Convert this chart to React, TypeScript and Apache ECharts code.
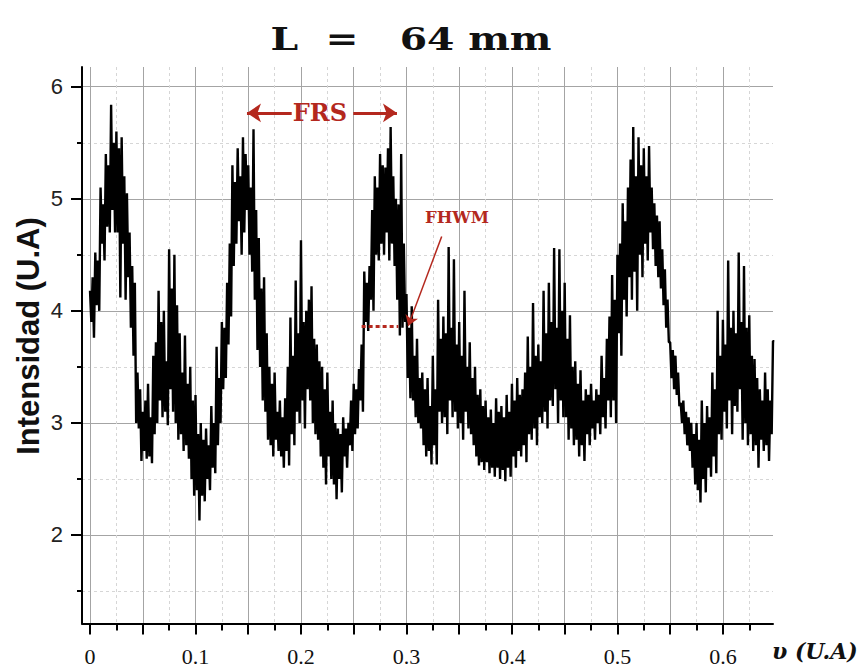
import React, { useEffect, useRef } from 'react';
import * as echarts from 'echarts';

// ---- data -------------------------------------------------------------
const xStep = 0.00125; // sampling step of the signal along the x axis (U.A)

// Intensidad (U.A), one value per 0.00125 step from x = 0
const intensity = [
  4.18, 3.9, 4.3, 3.76, 4.52, 4.05, 4.45, 4.0, 5.1, 4.6, 4.95, 4.45, 5.4, 4.75, 5.3, 4.7, 5.84, 4.9, 5.5, 4.7,
  5.6, 4.7, 5.45, 4.12, 5.55, 4.6, 5.2, 4.1, 5.05, 4.3, 4.7, 3.85, 4.4, 3.6, 4.25, 3.0, 3.45, 2.95, 3.3, 2.66,
  3.1, 2.75, 3.2, 2.68, 3.35, 2.7, 3.05, 2.64, 3.6, 2.9, 3.72, 3.0, 4.18, 3.2, 3.9, 3.05, 4.0, 3.1, 3.55, 2.98,
  4.55, 3.3, 4.2, 3.1, 4.5, 3.0, 4.05, 2.85, 3.8, 2.9, 3.45, 2.75, 3.78, 2.8, 3.35, 2.68, 3.5, 2.5, 3.2, 2.35,
  3.25, 2.4, 2.9, 2.13, 3.0, 2.35, 2.85, 2.3, 2.95, 2.5, 2.8, 2.4, 3.15, 2.6, 3.0, 2.55, 3.68, 2.8, 3.4, 3.0,
  3.9, 3.3, 3.85, 3.4, 4.25, 3.7, 4.6, 3.95, 5.3, 4.4, 5.15, 4.6, 5.45, 4.8, 5.2, 4.5, 5.55, 4.7, 5.4, 4.9,
  5.3, 4.5, 5.1, 4.35, 5.62, 4.1, 4.9, 3.65, 4.65, 3.5, 4.2, 3.2, 4.3, 3.1, 3.8, 2.85, 3.5, 2.8, 3.35, 2.7,
  3.45, 2.85, 3.1, 2.75, 3.2, 2.7, 3.05, 2.6, 3.22, 2.75, 3.5, 2.62, 3.94, 2.9, 3.6, 2.8, 4.27, 3.1, 3.8, 3.0,
  4.63, 3.2, 3.9, 2.95, 4.0, 3.3, 4.1, 3.2, 4.22, 3.0, 3.75, 2.9, 3.7, 2.85, 3.55, 2.7, 3.5, 2.6, 3.3, 2.45,
  3.45, 2.7, 3.1, 2.5, 3.2, 2.45, 3.0, 2.32, 2.95, 2.5, 2.9, 2.38, 3.05, 2.7, 2.95, 2.6, 3.0, 2.8, 3.2, 2.75,
  3.35, 2.9, 3.3, 2.95, 3.48, 3.2, 3.7, 3.1, 4.35, 3.9, 4.25, 3.82, 4.4, 4.1, 4.9, 4.0, 5.2, 4.5, 5.1, 4.45,
  5.4, 4.6, 5.3, 4.5, 5.28, 4.7, 5.45, 4.45, 5.64, 4.6, 5.2, 4.4, 5.0, 4.1, 4.95, 3.78, 5.4, 3.85, 4.6, 3.9,
  4.15, 3.4, 3.85, 3.22, 4.04, 3.2, 3.6, 3.05, 3.75, 3.0, 3.4, 2.95, 3.45, 2.8, 3.3, 2.7, 3.4, 2.75, 3.15, 2.63,
  3.6, 2.8, 3.3, 2.63, 4.1, 3.1, 3.75, 3.0, 3.95, 3.05, 3.8, 2.9, 4.57, 3.2, 3.85, 3.05, 4.46, 3.1, 3.7, 2.95,
  3.9, 3.0, 3.6, 2.85, 4.18, 3.1, 3.5, 2.95, 3.72, 2.9, 3.4, 2.8, 3.5, 2.7, 3.25, 2.62, 3.3, 2.65, 3.15, 2.58,
  3.2, 2.65, 3.05, 2.55, 3.12, 2.6, 3.0, 2.52, 3.22, 2.6, 3.1, 2.5, 3.15, 2.58, 3.05, 2.48, 3.25, 2.6, 3.1, 2.52,
  3.35, 2.7, 3.2, 2.6, 3.4, 2.75, 3.25, 2.7, 3.3, 2.8, 3.45, 2.65, 3.77, 2.9, 3.5, 2.85, 4.07, 2.95, 3.6, 2.8,
  3.7, 3.05, 3.55, 3.0, 4.18, 3.1, 3.8, 2.95, 4.25, 3.2, 3.9, 3.15, 4.56, 3.3, 3.85, 3.0, 4.55, 3.2, 4.0, 3.05,
  4.25, 3.05, 3.75, 2.85, 3.96, 2.95, 3.5, 2.8, 3.55, 2.85, 3.35, 2.7, 3.47, 2.8, 3.2, 2.66, 3.3, 2.9, 3.25, 2.8,
  3.35, 2.95, 3.2, 2.85, 3.3, 3.0, 3.25, 2.9, 3.6, 3.05, 3.4, 2.95, 3.75, 3.2, 3.95, 3.05, 4.32, 3.2, 4.1, 3.0,
  4.5, 3.8, 4.6, 3.6, 4.96, 4.1, 4.8, 3.95, 5.1, 4.3, 5.35, 4.1, 5.64, 4.35, 5.2, 4.0, 5.55, 4.5, 5.3, 4.3,
  5.45, 4.6, 5.2, 4.45, 5.47, 4.7, 5.1, 4.55, 4.96, 4.4, 4.85, 4.3, 4.8, 4.2, 4.55, 4.05, 4.37, 3.85, 4.1, 3.72,
  3.72, 3.4, 3.65, 3.3, 3.6, 3.25, 3.45, 3.15, 3.18, 3.0, 3.2, 2.9, 3.1, 2.8, 3.05, 2.75, 3.0, 2.6, 2.9, 2.45,
  3.0, 2.4, 2.85, 2.29, 3.2, 2.5, 3.0, 2.38, 3.15, 2.6, 3.05, 2.52, 3.45, 2.7, 3.3, 2.55, 4.0, 2.9, 3.6, 2.85,
  3.92, 3.1, 3.7, 2.95, 4.45, 3.2, 3.85, 2.9, 4.0, 3.15, 3.8, 3.1, 4.52, 3.3, 3.9, 2.85, 4.4, 3.0, 3.85, 2.8,
  3.96, 2.9, 3.6, 2.75, 3.57, 2.8, 3.4, 2.6, 3.3, 2.85, 3.2, 2.75, 3.45, 2.8, 3.3, 2.66, 3.2, 2.9, 3.73, 3.73,
];

const xMajorTicks = [0, 0.05, 0.1, 0.15, 0.2, 0.25, 0.3, 0.35, 0.4, 0.45, 0.5, 0.55, 0.6];
const xMinorTicks = [0.025, 0.075, 0.125, 0.175, 0.225, 0.275, 0.325, 0.375, 0.425, 0.475, 0.525, 0.575, 0.625];
const xTickLabels = [0, 0.1, 0.2, 0.3, 0.4, 0.5, 0.6];
const yMajorTicks = [2, 3, 4, 5, 6];
const yMinorTicks = [1.5, 2.5, 3.5, 4.5, 5.5];
const yTickLabels = [2, 3, 4, 5, 6];

const xRange = [-0.0076, 0.6475];
const yRange = [1.21, 6.176];

// annotations (data coordinates)
const frsLabelText = 'FRS';
const fhwmLabelText = 'FHWM';
const frsLeftArrow = [[0.1912, 5.766], [0.1488, 5.766]];
const frsRightArrow = [[0.2496, 5.766], [0.291, 5.766]];
const frsLabelPos = [0.218, 5.766];
const fhwmLabelPos = [0.3479, 4.83];
const fhwmArrow = [[0.3334, 4.663], [0.3017, 3.867]];
const fhwmDots = [[0.2575, 3.861], [0.2923, 3.861]];

const titleText = 'L  =   64 mm';
const yName = 'Intensidad (U.A)';
const xName = 'υ (U.A)';

const RED = '#b4281e';
const INK = '#111111';

export default function App() {
  const ref = useRef<HTMLDivElement>(null);

  useEffect(() => {
    if (!ref.current) return;
    const chart = echarts.init(ref.current, null, { renderer: 'svg' });

    const majorSplit = { show: true, lineStyle: { color: '#a4a4a4', width: 1, type: 'solid' } };
    const minorSplit = { show: true, lineStyle: { color: '#d6d6d6', width: 1, type: [3, 3] } };

    const option: any = {
      animation: false,
      backgroundColor: '#ffffff',
      grid: {
        left: 82,
        right: 90,
        top: 67,
        bottom: 45.5,
        containLabel: false,
        outerBoundsMode: 'none',
      },
      xAxis: [
        {
          type: 'value',
          min: xRange[0],
          max: xRange[1],
          position: 'bottom',
          axisLine: { show: true, onZero: false, lineStyle: { color: '#000', width: 2 } },
          axisTick: { show: true, customValues: xMajorTicks, length: 11, lineStyle: { color: '#000', width: 2 } },
          axisLabel: {
            show: true,
            customValues: xTickLabels,
            margin: 22,
            color: INK,
            fontFamily: 'Liberation Serif',
            fontSize: 22,
          },
          splitLine: majorSplit,
        },
        {
          type: 'value',
          min: xRange[0],
          max: xRange[1],
          position: 'bottom',
          axisLine: { show: false, onZero: false },
          axisTick: { show: true, customValues: xMinorTicks, length: 7, lineStyle: { color: '#000', width: 2 } },
          axisLabel: { show: false },
          splitLine: minorSplit,
        },
      ],
      yAxis: [
        {
          type: 'value',
          min: yRange[0],
          max: yRange[1],
          position: 'left',
          axisLine: { show: true, onZero: false, lineStyle: { color: '#000', width: 2 } },
          axisTick: { show: true, customValues: yMajorTicks, length: 11, lineStyle: { color: '#000', width: 2 } },
          axisLabel: {
            show: true,
            customValues: yTickLabels,
            margin: 19,
            color: '#222',
            fontFamily: 'Liberation Sans',
            fontSize: 22,
          },
          splitLine: majorSplit,
        },
        {
          type: 'value',
          min: yRange[0],
          max: yRange[1],
          position: 'left',
          axisLine: { show: false, onZero: false },
          axisTick: { show: true, customValues: yMinorTicks, length: 5, lineStyle: { color: '#000', width: 2 } },
          axisLabel: { show: false },
          splitLine: minorSplit,
        },
      ],
      series: [
        {
          type: 'line',
          xAxisIndex: 0,
          yAxisIndex: 0,
          data: intensity.map((v, i) => [Number((i * xStep).toFixed(6)), v]),
          showSymbol: false,
          symbol: 'none',
          lineStyle: { color: '#000', width: 2.4 },
          z: 3,
        },
        {
          type: 'line',
          xAxisIndex: 0,
          yAxisIndex: 0,
          data: [],
          z: 5,
          markLine: {
            silent: true,
            symbol: ['none', 'arrow'],
            symbolSize: 14,
            label: { show: false },
            lineStyle: { color: RED, width: 3, type: 'solid' },
            emphasis: { disabled: true },
            data: [
              [{ coord: frsLeftArrow[0] }, { coord: frsLeftArrow[1] }],
              [{ coord: frsRightArrow[0] }, { coord: frsRightArrow[1] }],
            ],
          },
        },
        {
          type: 'line',
          xAxisIndex: 0,
          yAxisIndex: 0,
          data: [],
          z: 5,
          markLine: {
            silent: true,
            symbol: ['none', 'arrow'],
            symbolSize: 10,
            label: { show: false },
            lineStyle: { color: RED, width: 1.5, type: 'solid' },
            emphasis: { disabled: true },
            data: [[{ coord: fhwmArrow[0] }, { coord: fhwmArrow[1] }]],
          },
        },
        {
          type: 'line',
          xAxisIndex: 0,
          yAxisIndex: 0,
          data: [],
          z: 5,
          markLine: {
            silent: true,
            symbol: ['none', 'none'],
            label: { show: false },
            lineStyle: { color: RED, width: 3, type: [4, 3] },
            emphasis: { disabled: true },
            data: [[{ coord: fhwmDots[0] }, { coord: fhwmDots[1] }]],
          },
        },
        {
          type: 'scatter',
          xAxisIndex: 0,
          yAxisIndex: 0,
          symbolSize: 0,
          z: 6,
          silent: true,
          itemStyle: { color: RED, opacity: 1 },
          data: [
            { value: frsLabelPos, name: frsLabelText, label: { fontSize: 24 } },
            { value: fhwmLabelPos, name: fhwmLabelText, label: { fontSize: 16.5 } },
          ],
          label: {
            show: true,
            position: 'inside',
            formatter: (p: any) => p.name,
            color: RED,
            opacity: 1,
            textBorderWidth: 0,
            textBorderColor: 'transparent',
            fontFamily: 'DejaVu Serif',
            fontWeight: 'bold',
          },
        },
      ],
      graphic: [
        {
          type: 'text',
          x: 411,
          y: 39,
          scaleX: 1.27,
          style: {
            text: titleText,
            fontFamily: 'DejaVu Serif',
            fontWeight: 'bold',
            fontSize: 31,
            fill: INK,
            align: 'center',
            verticalAlign: 'middle',
          },
        },
        {
          type: 'text',
          x: 28,
          y: 336,
          rotation: Math.PI / 2,
          style: {
            text: yName,
            fontFamily: 'Liberation Sans',
            fontWeight: 'bold',
            fontSize: 31,
            fill: INK,
            align: 'center',
            verticalAlign: 'middle',
          },
        },
        {
          type: 'text',
          x: 772,
          y: 651,
          style: {
            text: xName,
            fontFamily: 'DejaVu Serif',
            fontWeight: 'bold',
            fontStyle: 'italic',
            fontSize: 22,
            fill: INK,
            align: 'left',
            verticalAlign: 'middle',
          },
        },
      ],
    };

    chart.setOption(option);
    return () => chart.dispose();
  }, []);

  return (
    <div
      ref={ref}
      style={{ position: 'fixed', left: 0, top: 0, width: 863, height: 669, background: '#fff' }}
    />
  );
}
